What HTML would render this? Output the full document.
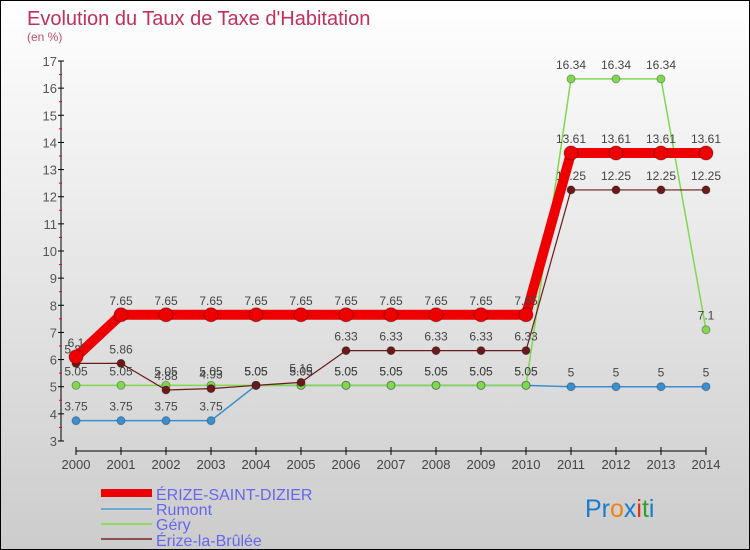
<!DOCTYPE html>
<html><head><meta charset="utf-8"><style>
body{margin:0}
#c{width:748px;height:548px;border:1px solid #000;background:linear-gradient(#fff,#ccc);position:relative;font-family:"Liberation Sans",sans-serif;overflow:hidden}
svg text{font-family:"Liberation Sans",sans-serif}
</style></head><body>
<div id="c">
<svg id="s" width="748" height="548">
<text x="26" y="24" font-size="20" fill="#c0305a">Evolution du Taux de Taxe d'Habitation</text>
<text x="26" y="40" font-size="12" fill="#c0506a">(en %)</text>
<g id="axes"></g><g id="series"></g>
<g font-size="16" fill="#6666ee">
<line x1="100" y1="492" x2="151" y2="492" stroke="#ee0000" stroke-width="8"/>
<text x="155" y="499">ÉRIZE-SAINT-DIZIER</text>
<line x1="100" y1="508" x2="151" y2="508" stroke="#6fa8d0" stroke-width="2"/>
<text x="155" y="514">Rumont</text>
<line x1="100" y1="523" x2="151" y2="523" stroke="#8fdc60" stroke-width="2"/>
<text x="155" y="529">Géry</text>
<line x1="100" y1="538" x2="151" y2="538" stroke="#8a5050" stroke-width="2"/>
<text x="155" y="545">Érize-la-Brûlée</text>
</g>
<text x="584" y="516" font-size="25"><tspan fill="#1a7ad0">Pr</tspan><tspan fill="#f08010">o</tspan><tspan fill="#1a7ad0">x</tspan><tspan fill="#e03010">i</tspan><tspan fill="#30a030">t</tspan><tspan fill="#1a7ad0">i</tspan></text>
</svg></div>
<script>
const years=[2000,2001,2002,2003,2004,2005,2006,2007,2008,2009,2010,2011,2012,2013,2014];
const yTicks=[3,4,5,6,7,8,9,10,11,12,13,14,15,16,17];
const rumont=[3.75,3.75,3.75,3.75,5.05,5.05,5.05,5.05,5.05,5.05,5.05,5,5,5,5];
const gery=[5.05,5.05,5.05,5.05,5.05,5.05,5.05,5.05,5.05,5.05,5.05,16.34,16.34,16.34,7.1];
const brulee=[5.86,5.86,4.88,4.93,5.05,5.16,6.33,6.33,6.33,6.33,6.33,12.25,12.25,12.25,12.25];
const dizier=[6.1,7.65,7.65,7.65,7.65,7.65,7.65,7.65,7.65,7.65,7.65,13.61,13.61,13.61,13.61];
const NS='http://www.w3.org/2000/svg';
const X=i=>75+i*45, Y=v=>440-(v-3)*(380/14);
function mk(t,a,p){const e=document.createElementNS(NS,t);for(const k in a)e.setAttribute(k,a[k]);p.appendChild(e);return e;}
const ax=document.getElementById('axes'), sg=document.getElementById('series');
let l=mk('line',{x1:60,y1:Y(17),x2:60,y2:Y(3),stroke:'#000'},ax);


yTicks.forEach(v=>{mk('line',{x1:57,y1:Y(v),x2:63,y2:Y(v),stroke:'#000'},ax);
 if(v<17)mk('line',{x1:58,y1:Y(v+0.5),x2:61,y2:Y(v+0.5),stroke:'#f00'},ax);
 const t=mk('text',{x:56,y:Y(v)+5,'text-anchor':'end','font-size':13,fill:'#555'},ax);t.textContent=v;
 
 });
l=mk('line',{x1:X(0),y1:450,x2:X(14),y2:450,stroke:'#000'},ax);


years.forEach((y,i)=>{mk('line',{x1:X(i),y1:446,x2:X(i),y2:454,stroke:'#000'},ax);
 const t=mk('text',{x:X(i),y:468,'text-anchor':'middle','font-size':13,fill:'#444'},ax);t.textContent=y;
 
 });
function series(d,col,w,r,name){
 const g=mk('g',{},sg);
 
 
 const p=mk('polyline',{points:d.map((v,i)=>X(i)+','+Y(v)).join(' '),fill:'none',stroke:col,'stroke-width':w,'stroke-linejoin':'round'},g);
 
 
 d.forEach((v,i)=>{const c=mk('circle',{cx:X(i),cy:Y(v),r:r,fill:col,stroke:'rgba(0,0,0,0.3)'},g);
  
  
  const t=mk('text',{x:X(i),y:Y(v)-10,'text-anchor':'middle','font-size':12,fill:'#444'},g);t.textContent=String(v).replace(/\.?0+$/,'');
  
  });
}
series(rumont,'#3a8fd0',1.5,4,'rumont');
series(gery,'#80d850',1.5,4,'gery');
series(brulee,'#6a1a1a',1.2,4,'erize-la-brulee');
series(dizier,'#ee0000',10,7,'erize-saint-dizier');
</script></body></html>
